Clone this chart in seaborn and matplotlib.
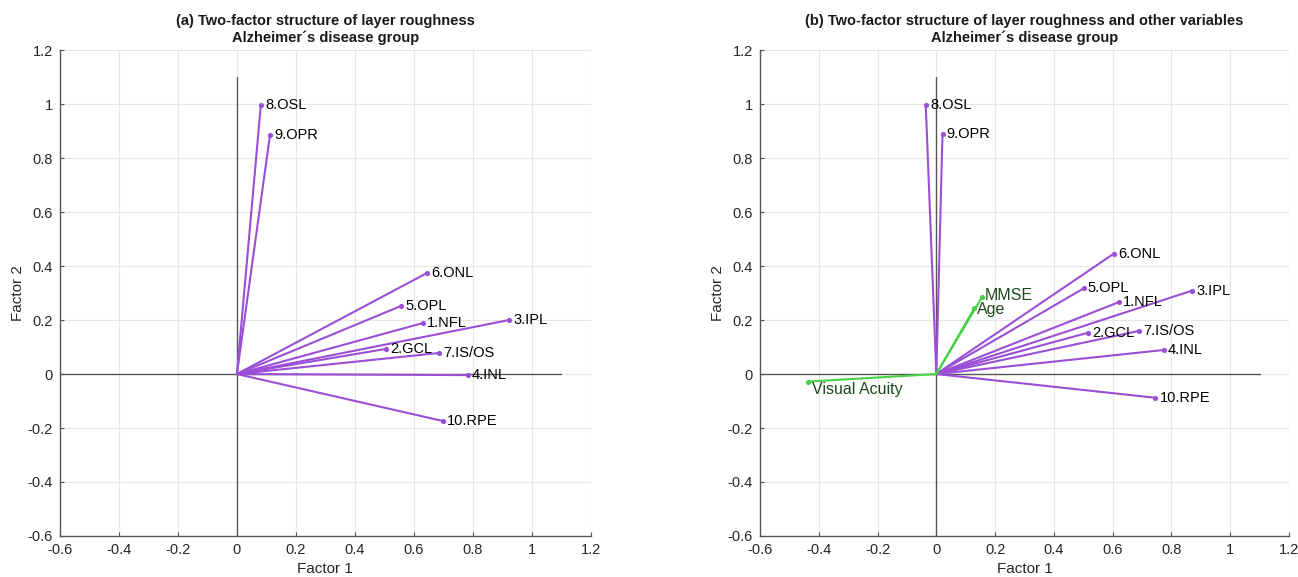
import matplotlib
matplotlib.use('Agg')
import matplotlib.pyplot as plt
import numpy as np
import pandas as pd
import seaborn as sns

# loadings
layers = ['1.NFL', '2.GCL', '3.IPL', '4.INL', '5.OPL',
          '6.ONL', '7.IS/OS', '8.OSL', '9.OPR', '10.RPE']

f1_a = [0.631, 0.505, 0.922, 0.783, 0.556, 0.644, 0.685, 0.081, 0.112, 0.698]
f2_a = [0.189, 0.093, 0.200, -0.004, 0.252, 0.374, 0.078, 0.996, 0.885, -0.174]

f1_b = [0.620, 0.516, 0.870, 0.773, 0.501, 0.604, 0.690, -0.036, 0.021, 0.745]
f2_b = [0.266, 0.153, 0.309, 0.089, 0.317, 0.446, 0.160, 0.997, 0.890, -0.088]

others = ['MMSE', 'Age', 'Visual Acuity']
f1_o = [0.155, 0.129, -0.436]
f2_o = [0.284, 0.243, -0.028]

titles = ['(a) Two-factor structure of layer roughness\nAlzheimer\u00b4s disease group',
          '(b) Two-factor structure of layer roughness and other variables\nAlzheimer\u00b4s disease group']

PURPLE = '#9a4fd6'
GREEN = '#47d147'
GREEN_TXT = '#1d4a1d'

sns.set_style('whitegrid')
plt.rcParams['font.family'] = ['Liberation Sans', 'DejaVu Sans']


def biplot(ax, names, xs, ys, color, text_color, fs=10.5, offsets=None):
    df = pd.DataFrame({'name': names, 'f1': xs, 'f2': ys})
    for _, r in df.iterrows():
        ax.plot([0, r.f1], [0, r.f2], color=color, lw=1.5, zorder=3)
    sns.scatterplot(data=df, x='f1', y='f2', color=color, s=14,
                    edgecolor=color, linewidth=0, ax=ax, zorder=4)
    for i, r in df.iterrows():
        dx, dy = (3, 0) if offsets is None else offsets[i]
        ax.annotate(r['name'], (r.f1, r.f2), xytext=(dx, dy), textcoords='offset points',
                    va='center', ha='left', fontsize=fs, color=text_color, zorder=5)


def setup(ax, title):
    ax.plot([-1.1, 1.1], [0, 0], color='#555555', lw=1.0, zorder=2)
    ax.plot([0, 0], [-1.1, 1.1], color='#555555', lw=1.0, zorder=2)
    ax.set_xlim(-0.6, 1.2)
    ax.set_ylim(-0.6, 1.2)
    ticks = np.round(np.arange(-0.6, 1.21, 0.2), 1)
    ax.set_xticks(ticks)
    ax.set_yticks(ticks)
    lab = [('%g' % t) for t in ticks]
    ax.set_xticklabels(lab)
    ax.set_yticklabels(lab)
    ax.tick_params(labelsize=10.5, colors='#262626', direction='in', length=3,
                   width=0.8, pad=5, left=True, bottom=True)
    ax.tick_params(colors='#555555', which='both', labelcolor='#262626')
    ax.grid(color='#e6e6e6', lw=0.8)
    for s in ['top', 'right']:
        ax.spines[s].set_visible(False)
    for s in ['left', 'bottom']:
        ax.spines[s].set_color('#555555')
        ax.spines[s].set_linewidth(1.0)
    ax.set_xlabel('Factor 1', fontsize=11, color='#262626', labelpad=4)
    ax.set_ylabel('Factor 2', fontsize=11, color='#262626', labelpad=2)
    ax.set_title(title, fontsize=10.5, fontweight='bold', color='#1a1a1a', pad=6)


fig = plt.figure(figsize=(12.98, 5.77), dpi=100)
ax1 = fig.add_axes([0.0462, 0.0711, 0.409, 0.842])
ax2 = fig.add_axes([0.5855, 0.0711, 0.4076, 0.842])

setup(ax1, titles[0])
biplot(ax1, layers, f1_a, f2_a, PURPLE, 'black')

setup(ax2, titles[1])
biplot(ax2, layers, f1_b, f2_b, PURPLE, 'black')
biplot(ax2, others, f1_o, f2_o, GREEN, GREEN_TXT, fs=11.5,
       offsets=[(2, 1), (2, -1), (3, -6)])

fig.savefig('out.png', dpi=100)
